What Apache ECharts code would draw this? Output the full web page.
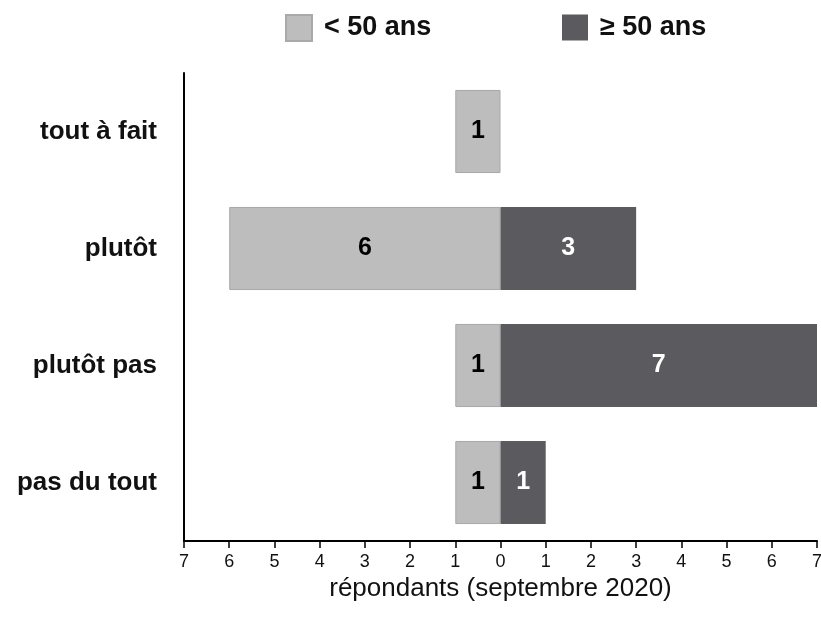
<!DOCTYPE html>
<html>
<head>
<meta charset="utf-8">
<script src="https://cdn.jsdelivr.net/npm/echarts@6/dist/echarts.min.js"></script>
<style>
    html, body { margin: 0; padding: 0; background: #fff; }
    #chart { width: 821px; height: 618px; }
</style>
</head>
<body>
<div id="chart"></div>
<script>
    // catégories de réponse (de haut en bas)
    var categories = ['tout à fait', 'plutôt', 'plutôt pas', 'pas du tout'];
    // répondants de moins de 50 ans (affichés à gauche)
    var moins50 = [1, 6, 1, 1];
    // répondants de 50 ans et plus (affichés à droite)
    var plus50 = [0, 3, 7, 1];

    var font = '"Liberation Sans", Arial, Helvetica, sans-serif';

    var labelFmt = function(params) {
        var v = Math.abs(params.value);
        return v === 0 ? '' : String(v);
    };

    var legendText = {
        fontSize: 27,
        fontWeight: 'bold',
        color: '#111',
        fontFamily: font,
        padding: [2, 0, 0, 7]
    };

    var echart = echarts.init(document.getElementById('chart'));
    var option = {
        animation: false,
        textStyle: { fontFamily: font },
        legend: [{
            top: 14,
            left: 285,
            padding: 0,
            icon: 'rect',
            itemWidth: 26,
            itemHeight: 26,
            textStyle: legendText,
            data: ['< 50 ans']
        }, {
            top: 14,
            left: 562,
            padding: 0,
            icon: 'rect',
            itemWidth: 26,
            itemHeight: 26,
            textStyle: legendText,
            data: ['≥ 50 ans']
        }],
        grid: {
            left: 184,
            right: 4,
            top: 73,
            bottom: 77,
            containLabel: false,
            outerBoundsMode: 'none'
        },
        xAxis: {
            type: 'value',
            min: -7,
            max: 7,
            interval: 1,
            name: 'répondants (septembre 2020)',
            nameLocation: 'middle',
            nameGap: 22,
            nameTextStyle: { fontSize: 26, color: '#111', fontFamily: font },
            splitLine: { show: false },
            axisLine: { show: true, lineStyle: { color: '#000', width: 2 } },
            axisTick: { show: true, length: 7, lineStyle: { color: '#000', width: 1.5 } },
            axisLabel: {
                fontSize: 18,
                color: '#111',
                margin: 12,
                formatter: function(v) { return Math.abs(v); }
            }
        },
        yAxis: {
            type: 'category',
            inverse: true,
            data: categories,
            axisLine: { show: true, onZero: false, lineStyle: { color: '#000', width: 2 } },
            axisTick: { show: false },
            axisLabel: {
                fontSize: 26,
                fontWeight: 'bold',
                color: '#111',
                margin: 27
            }
        },
        series: [{
            name: '< 50 ans',
            type: 'bar',
            barWidth: '71%',
            barGap: '-100%',
            itemStyle: { color: '#bdbdbd', borderColor: '#a9a9a9', borderWidth: 1 },
            label: {
                show: true,
                position: 'inside',
                fontSize: 25,
                fontWeight: 'bold',
                color: '#000',
                formatter: labelFmt
            },
            data: moins50.map(function(v) { return -v; })
        }, {
            name: '≥ 50 ans',
            type: 'bar',
            barWidth: '71%',
            itemStyle: { color: '#5b5a5f' },
            label: {
                show: true,
                position: 'inside',
                fontSize: 25,
                fontWeight: 'bold',
                color: '#fff',
                formatter: labelFmt
            },
            data: plus50.map(function(v) { return v === 0 ? '-' : v; })
        }]
    };
    echart.setOption(option);
</script>
</body>
</html>
